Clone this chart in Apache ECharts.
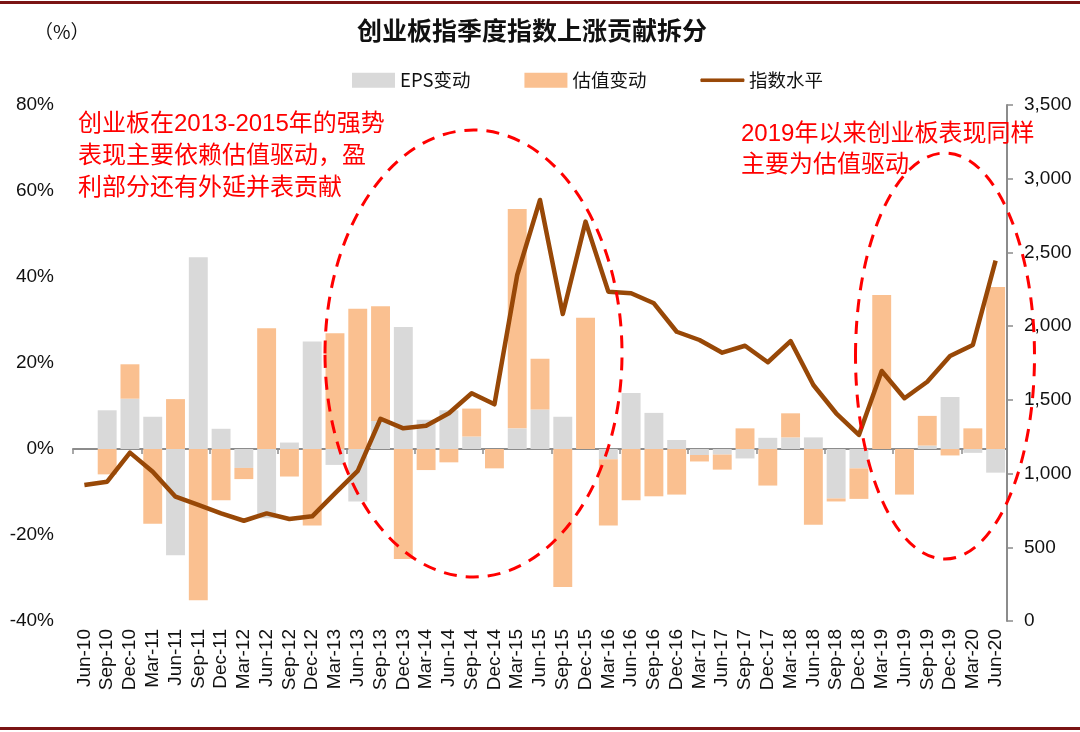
<!DOCTYPE html>
<html>
<head>
<meta charset="utf-8">
<script src="https://cdn.jsdelivr.net/npm/echarts@6/dist/echarts.min.js"></script>
<style>
html,body{margin:0;padding:0;background:#fff;}
#chart{width:1080px;height:732px;}
</style>
</head>
<body>
<div id="chart"></div>
<script>
const categories = ['Jun-10','Sep-10','Dec-10','Mar-11','Jun-11','Sep-11','Dec-11','Mar-12','Jun-12','Sep-12','Dec-12',
  'Mar-13','Jun-13','Sep-13','Dec-13','Mar-14','Jun-14','Sep-14','Dec-14','Mar-15','Jun-15','Sep-15','Dec-15',
  'Mar-16','Jun-16','Sep-16','Dec-16','Mar-17','Jun-17','Sep-17','Dec-17','Mar-18','Jun-18','Sep-18','Dec-18',
  'Mar-19','Jun-19','Sep-19','Dec-19','Mar-20','Jun-20'];
const epsChange = [0, 9.0, 11.7, 7.5, -24.7, 44.6, 4.7, -4.4, -16.1, 1.5, 25.0,
  -3.7, -12.2, 6.5, 28.4, 6.8, 9.0, 2.9, 0, 4.8, 9.2, 7.5, 0,
  -2.4, 13.0, 8.4, 2.1, -1.4, -1.3, -2.2, 2.6, 2.7, 2.7, -11.5, -4.5,
  0, 0, 0.8, 12.1, -0.9, -5.5];
const valuationChange = [0, -5.9, 8.0, -17.4, 11.6, -35.2, -11.9, -2.6, 28.1, -6.4, -17.8,
  26.9, 32.6, 26.7, -25.6, -4.9, -3.1, 6.5, -4.5, 51.0, 11.8, -32.1, 30.5,
  -15.4, -11.9, -11.0, -10.6, -1.5, -3.5, 4.8, -8.5, 5.6, -17.6, -0.7, -7.1,
  35.8, -10.6, 6.9, -1.5, 4.8, 37.7];
const indexLevel = [922, 945, 1142, 1013, 843, 787, 730, 680, 730, 692, 710,
  866, 1018, 1372, 1307, 1325, 1409, 1545, 1470, 2347, 2856, 2082, 2709,
  2234, 2223, 2155, 1962, 1906, 1820, 1867, 1755, 1899, 1601, 1409, 1262,
  1696, 1511, 1623, 1797, 1872, 2444];
const leftTicks = {min: -40, max: 80, interval: 20};
const rightTicks = {min: 0, max: 3500, interval: 500};

const latin = "'Liberation Sans', Arial, 'Noto Sans CJK SC', sans-serif";
const cjk = "'Noto Sans CJK SC', 'Liberation Sans', sans-serif";
const axisGray = '#8c8c8c';

const chart = echarts.init(document.getElementById('chart'), null, {renderer: 'canvas'});
const option = {
  backgroundColor: '#fff',
  animation: false,
  title: {
    text: '创业板指季度指数上涨贡献拆分',
    left: 352, top: 13,
    textStyle: {fontFamily: cjk, fontSize: 25, fontWeight: 'bold', color: '#111'}
  },
  legend: {
    left: 347, top: 66,
    itemWidth: 43, itemHeight: 15, itemGap: 54,
    textStyle: {fontFamily: cjk, fontSize: 18.5, color: '#111'},
    data: [
      {name: 'EPS变动', icon: 'rect'},
      {name: '估值变动', icon: 'rect'},
      {name: '指数水平', icon: 'path://M0,0L0.01,0M0,4.5L100,4.5L100,10.5L0,10.5ZM0,15L0.01,15',
        itemStyle: {color: '#984807', borderColor: '#984807', borderWidth: 1}}
    ]
  },
  grid: {left: 73, right: 73, top: 105, bottom: 111, containLabel: false},
  xAxis: [
    {
      type: 'category', data: categories, position: 'bottom',
      axisLine: {show: false, onZero: false}, axisTick: {show: false},
      axisLabel: {rotate: 90, interval: 0, fontSize: 19, fontFamily: latin, color: '#111', margin: 8},
      splitLine: {show: false}
    },
    {
      type: 'category', data: categories, position: 'bottom',
      axisLine: {show: true, onZero: true, onZeroAxisIndex: 0, lineStyle: {color: axisGray, width: 2}},
      axisTick: {show: true, length: 5, lineStyle: {color: axisGray, width: 1.5}},
      axisLabel: {show: false}, splitLine: {show: false}
    }
  ],
  yAxis: [
    {
      type: 'value', position: 'left', min: leftTicks.min, max: leftTicks.max, interval: leftTicks.interval,
      axisLine: {show: false}, axisTick: {show: false}, splitLine: {show: false},
      axisLabel: {formatter: '{value}%', fontSize: 19, fontFamily: latin, color: '#111', margin: 19}
    },
    {
      type: 'value', position: 'right', min: rightTicks.min, max: rightTicks.max, interval: rightTicks.interval,
      axisLine: {show: true, lineStyle: {color: axisGray, width: 2}},
      axisTick: {show: true, length: 6, lineStyle: {color: axisGray, width: 1.5}},
      splitLine: {show: false},
      axisLabel: {formatter: v => v.toLocaleString('en-US'), fontSize: 19, fontFamily: latin, color: '#111', margin: 17}
    }
  ],
  series: [
    {
      name: 'EPS变动', type: 'bar', stack: 'contrib', xAxisIndex: 0, yAxisIndex: 0,
      data: epsChange, barWidth: '83%', itemStyle: {color: '#d9d9d9'}
    },
    {
      name: '估值变动', type: 'bar', stack: 'contrib', xAxisIndex: 0, yAxisIndex: 0,
      data: valuationChange, barWidth: '83%', itemStyle: {color: '#fac090'}
    },
    {
      name: '指数水平', type: 'line', xAxisIndex: 0, yAxisIndex: 1,
      data: indexLevel, showSymbol: false, symbol: 'none',
      lineStyle: {color: '#984807', width: 4.5, join: 'round'}, itemStyle: {color: '#984807'}, z: 5
    }
  ],
  graphic: [
    {type: 'rect', left: 0, top: 1, shape: {width: 1080, height: 3}, style: {fill: '#7a1414'}, z: 100},
    {type: 'rect', left: 0, top: 727, shape: {width: 1080, height: 3}, style: {fill: '#7a1414'}, z: 100},
    {type: 'text', left: 34, top: 22, style: {text: '（%）', font: "19px " + cjk, fill: '#111'}, z: 100},
    {type: 'text', left: 78, top: 108, z: 100,
      style: {text: '创业板在2013-2015年的强势\n表现主要依赖估值驱动，盈\n利部分还有外延并表贡献',
        font: "24px " + latin, fill: '#ff0000', lineHeight: 32}},
    {type: 'text', left: 741, top: 119, z: 100,
      style: {text: '2019年以来创业板表现同样\n主要为估值驱动',
        font: "24px " + latin, fill: '#ff0000', lineHeight: 31}},
    {type: 'ellipse', z: 100, shape: {cx: 473.5, cy: 353.5, rx: 148.5, ry: 223.5},
      style: {fill: 'none', stroke: '#ff0000', lineWidth: 3, lineDash: [13, 9]}},
    {type: 'ellipse', z: 100, shape: {cx: 945, cy: 356, rx: 89.5, ry: 203},
      style: {fill: 'none', stroke: '#ff0000', lineWidth: 3, lineDash: [13, 9]}}
  ]
};
chart.setOption(option);
</script>
</body>
</html>
